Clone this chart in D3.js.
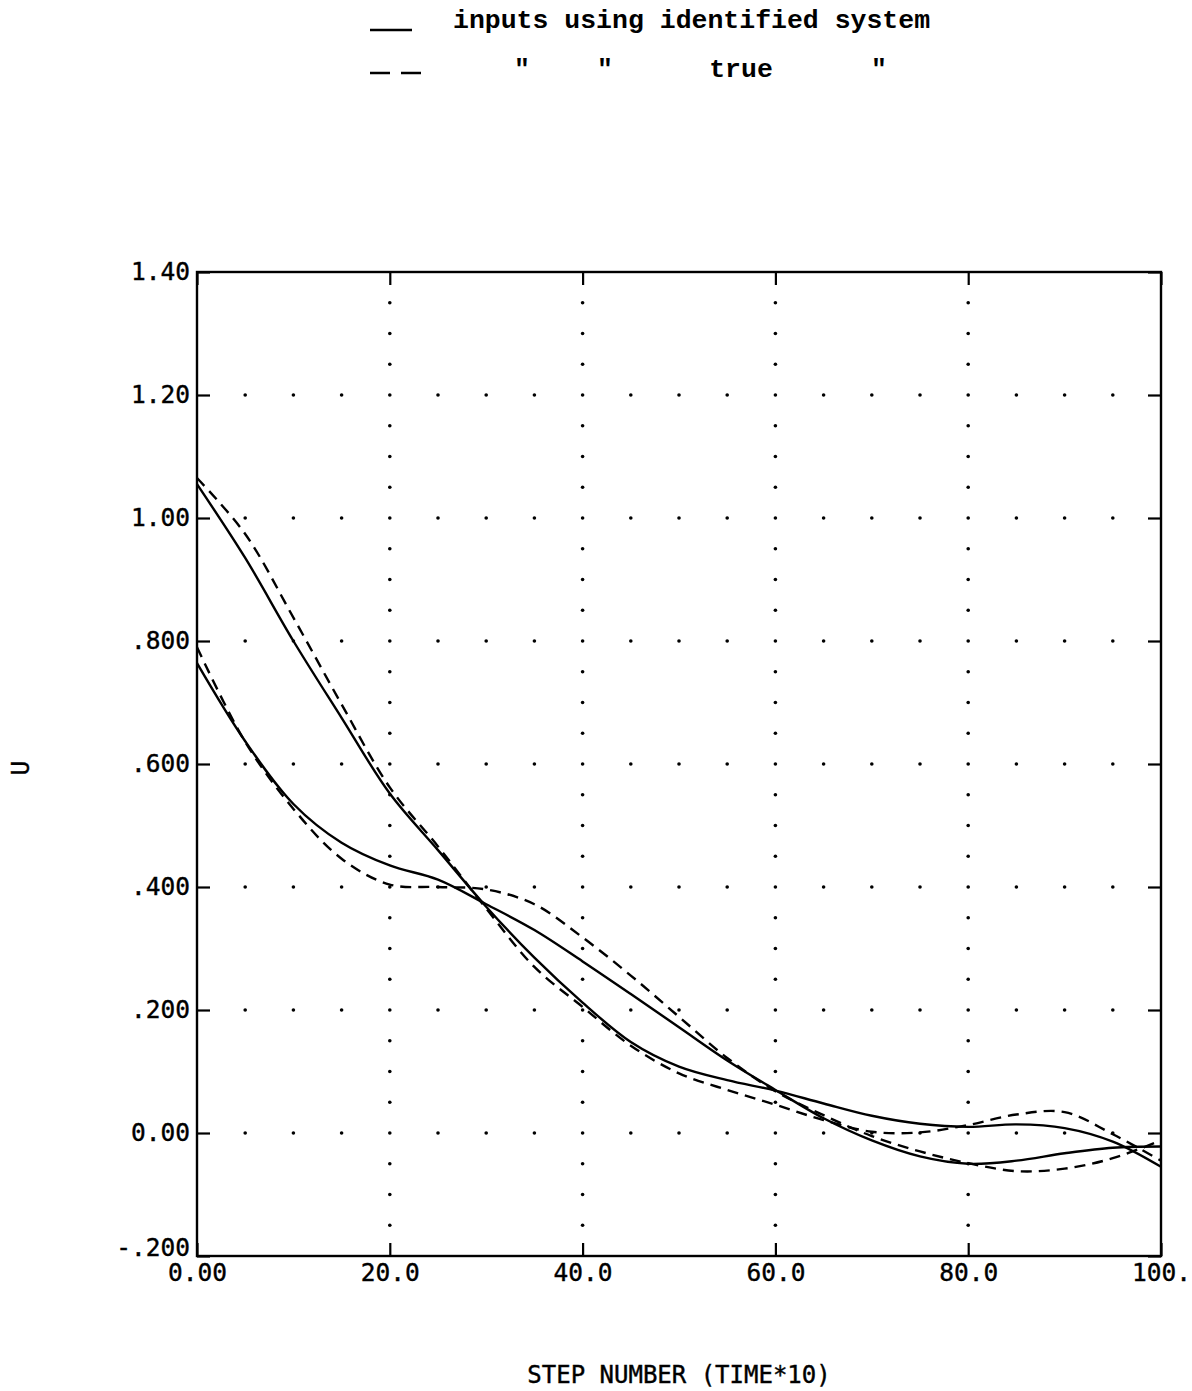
<!DOCTYPE html>
<html>
<head>
<meta charset="utf-8">
<script src="https://cdn.jsdelivr.net/npm/d3@7"></script>
<style>
  body { margin: 0; background: #fff; }
  svg { display: block; background: #fff; }
</style>
</head>
<body>
<svg id="chart"></svg>
<script>
// step numbers at which the curves were read
const steps = [0, 5, 10, 15, 20, 25, 30, 35, 40, 45, 50, 55, 60, 65, 70, 75, 80, 85, 90, 95, 100];

// identified system (solid)
const identA = [1.055, 0.935, 0.800, 0.675, 0.552, 0.460, 0.368, 0.285, 0.212, 0.148, 0.108, 0.086, 0.069, 0.048, 0.028, 0.015, 0.010, 0.014, 0.008, -0.014, -0.055];
const identB = [0.764, 0.637, 0.535, 0.472, 0.435, 0.412, 0.372, 0.330, 0.279, 0.226, 0.172, 0.118, 0.070, 0.024, -0.012, -0.038, -0.050, -0.045, -0.033, -0.024, -0.022];
// true system (dashed)
const trueA = [1.065, 0.974, 0.838, 0.697, 0.562, 0.466, 0.365, 0.270, 0.205, 0.142, 0.097, 0.070, 0.046, 0.021, 0.002, 0.001, 0.013, 0.030, 0.034, -0.002, -0.045];
const trueB = [0.790, 0.636, 0.527, 0.446, 0.404, 0.400, 0.396, 0.372, 0.318, 0.256, 0.189, 0.122, 0.068, 0.029, -0.005, -0.030, -0.049, -0.062, -0.058, -0.041, -0.012];

const xTicks = [0, 20, 40, 60, 80, 100];
const xTickLabels = ["0.00", "20.0", "40.0", "60.0", "80.0", "100."];
const yTicks = [-0.2, 0, 0.2, 0.4, 0.6, 0.8, 1.0, 1.2, 1.4];
const yTickLabels = ["-.200", "0.00", ".200", ".400", ".600", ".800", "1.00", "1.20", "1.40"];

const width = 1192, height = 1391;
const margin = { top: 272, right: 31, bottom: 135, left: 197 };
const plotFont = "DejaVu Sans Mono";

const svg = d3.select("#chart").attr("width", width).attr("height", height);

const x = d3.scaleLinear().domain([0, 100]).range([margin.left, width - margin.right]);
const y = d3.scaleLinear().domain([-0.2, 1.4]).range([height - margin.bottom, margin.top]);

// dotted grid
const grid = svg.append("g").attr("fill", "#000");
const rowVals = yTicks.slice(1, -1);
rowVals.forEach(v => {
    d3.range(5, 100, 5).filter(t => t % 20 !== 0).forEach(t => {
        grid.append("circle").attr("cx", x(t)).attr("cy", y(v)).attr("r", 1.8);
    });
});
xTicks.slice(1, -1).forEach(t => {
    d3.range(-0.15, 1.38, 0.05).forEach(v => {
        grid.append("circle").attr("cx", x(t)).attr("cy", y(v)).attr("r", 1.8);
    });
});

// axes with inward ticks
function styleAxis(g) {
    g.select(".domain").remove();
    g.selectAll(".tick line").attr("stroke", "#000").attr("stroke-width", 2.2);
    g.selectAll(".tick text")
        .attr("font-family", plotFont).attr("font-size", 24.5).attr("fill", "#000")
        .attr("stroke", "#000").attr("stroke-width", 0.4);
}
const yAxisG = svg.append("g")
    .attr("transform", `translate(${margin.left},0)`)
    .call(d3.axisLeft(y).tickValues(yTicks).tickSize(-13).tickPadding(7)
        .tickFormat((d, i) => yTickLabels[i]))
    .call(styleAxis);
// lowest label sits a little above its tick, clear of the x labels
yAxisG.selectAll(".tick text").filter(d => d === -0.2).attr("y", -8);

svg.append("g")
    .attr("transform", `translate(${width - margin.right},0)`)
    .call(d3.axisRight(y).tickValues(yTicks).tickSize(-13).tickFormat(""))
    .call(styleAxis);
svg.append("g")
    .attr("transform", `translate(0,${height - margin.bottom})`)
    .call(d3.axisBottom(x).tickValues(xTicks).tickSize(-13).tickPadding(8)
        .tickFormat((d, i) => xTickLabels[i]))
    .call(styleAxis);
svg.append("g")
    .attr("transform", `translate(0,${margin.top})`)
    .call(d3.axisTop(x).tickValues(xTicks).tickSize(-13).tickFormat(""))
    .call(styleAxis);

// frame
svg.append("rect")
    .attr("x", x(0)).attr("y", y(1.4))
    .attr("width", x(100) - x(0)).attr("height", y(-0.2) - y(1.4))
    .attr("fill", "none").attr("stroke", "#000").attr("stroke-width", 2.4);

// curves
const line = d3.line()
    .x((d, i) => x(steps[i]))
    .y(d => y(d))
    .curve(d3.curveCatmullRom.alpha(0.5));

[identA, identB].forEach(s => {
    svg.append("path").datum(s)
        .attr("fill", "none").attr("stroke", "#000").attr("stroke-width", 2.4)
        .attr("d", line);
});
[trueA, trueB].forEach(s => {
    svg.append("path").datum(s)
        .attr("fill", "none").attr("stroke", "#000").attr("stroke-width", 2.4)
        .attr("stroke-dasharray", "11,7")
        .attr("d", line);
});

// axis titles
svg.append("text")
    .attr("x", 679).attr("y", 1383)
    .attr("text-anchor", "middle")
    .attr("font-family", plotFont).attr("font-size", 24)
    .attr("stroke", "#000").attr("stroke-width", 0.4)
    .text("STEP NUMBER (TIME*10)");
svg.append("text")
    .attr("transform", "translate(29,768) rotate(-90)")
    .attr("text-anchor", "middle")
    .attr("font-family", plotFont).attr("font-size", 24)
    .attr("stroke", "#000").attr("stroke-width", 0.4)
    .text("U");

// legend
const legendFont = "Liberation Mono";
svg.append("line")
    .attr("x1", 370).attr("x2", 412).attr("y1", 30).attr("y2", 30)
    .attr("stroke", "#000").attr("stroke-width", 2.4);
svg.append("line")
    .attr("x1", 370).attr("x2", 421).attr("y1", 73).attr("y2", 73)
    .attr("stroke", "#000").attr("stroke-width", 2.4)
    .attr("stroke-dasharray", "20,11");
svg.append("text")
    .attr("x", 453).attr("y", 28)
    .attr("font-family", legendFont).attr("font-size", 26.5).attr("font-weight", "bold")
    .text("inputs using identified system");
const row2 = [["\"", 522], ["\"", 605], ["true", 741], ["\"", 879]];
row2.forEach(([t, cx]) => {
    svg.append("text")
        .attr("x", cx).attr("y", 77)
        .attr("text-anchor", "middle")
        .attr("font-family", legendFont).attr("font-size", 26.5).attr("font-weight", "bold")
        .text(t);
});
</script>
</body>
</html>
